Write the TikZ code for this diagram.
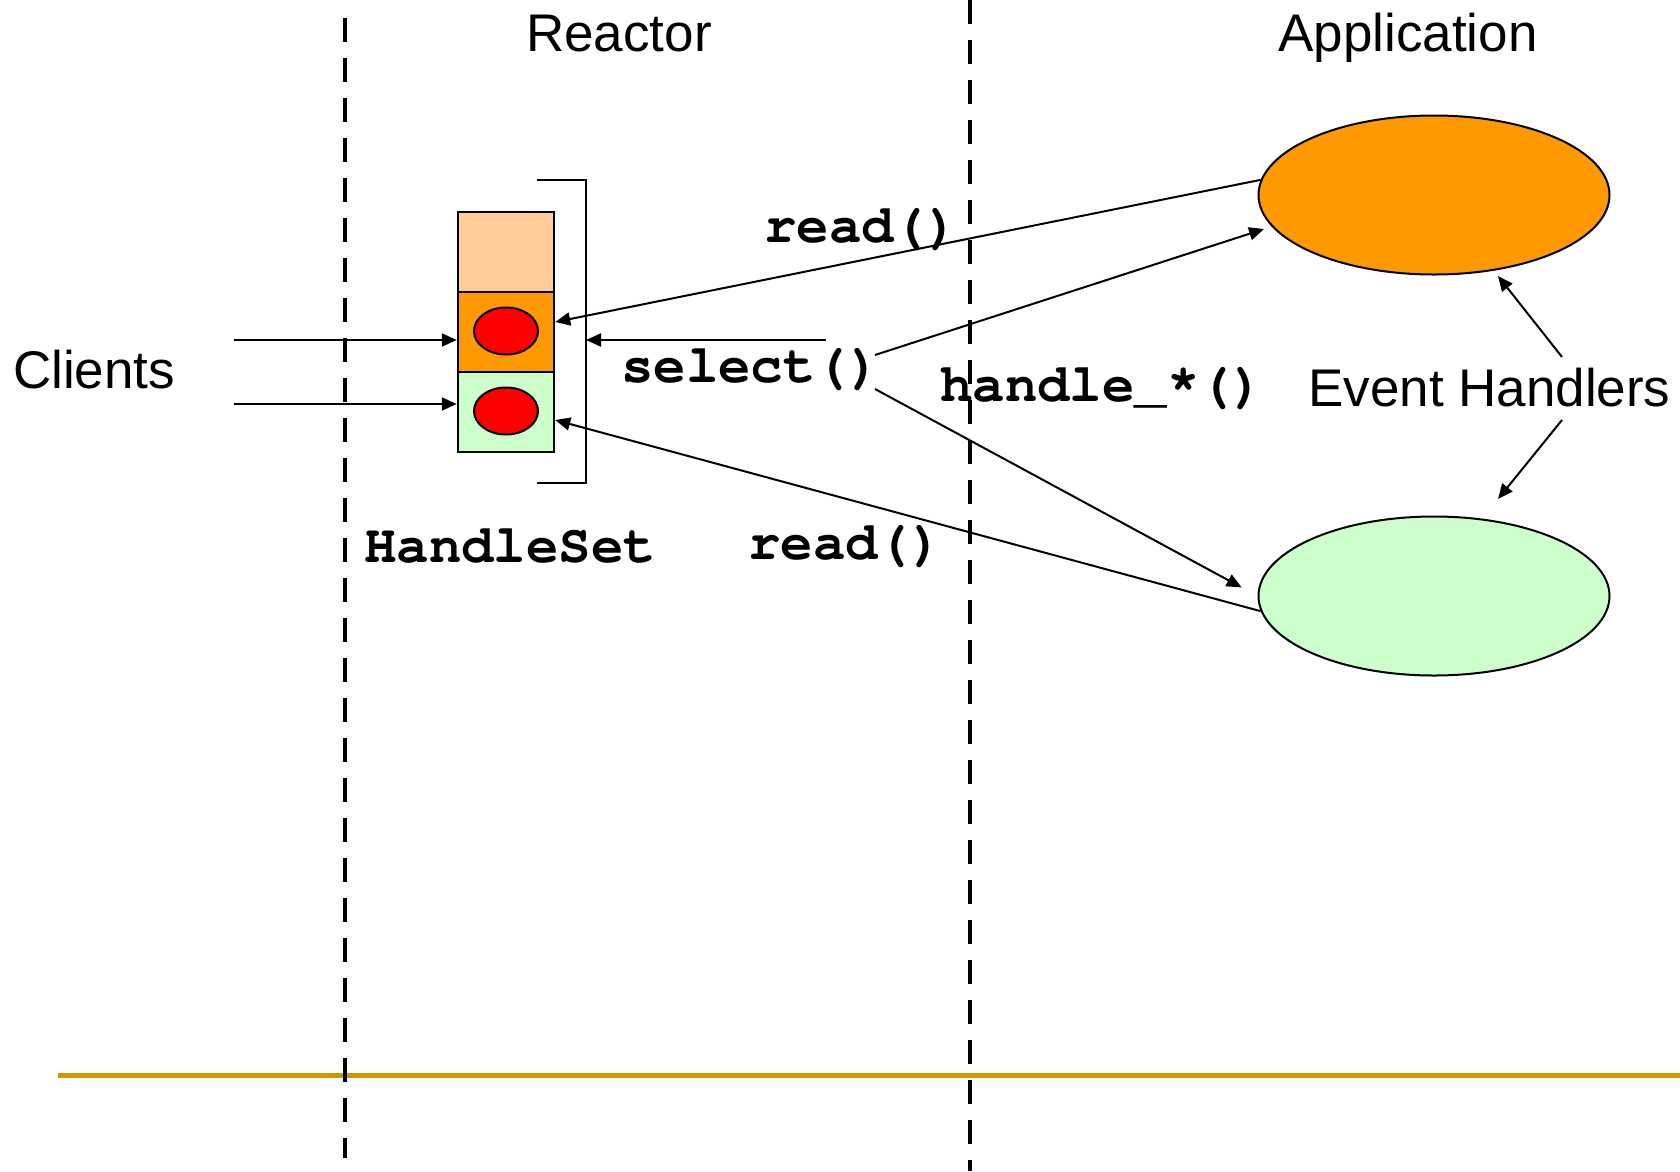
\documentclass[tikz,border=0pt]{standalone}
\usepackage{fontspec}
\setmainfont{Liberation Sans}
\newfontfamily\codefont{TeX Gyre Cursor}
\usetikzlibrary{arrows.meta,shapes.geometric}

\definecolor{peach}{HTML}{FFCC99}
\definecolor{amber}{HTML}{FF9900}
\definecolor{mint}{HTML}{CCFFCC}
\definecolor{gold}{HTML}{CC9900}

\tikzset{
  lbl/.style={inner sep=0pt, font=\fontsize{53}{60}\selectfont},
  code/.style={inner sep=0pt, font=\codefont\bfseries\fontsize{54}{60}\selectfont},
  cell/.style={draw, line width=2.5pt, minimum width=96pt, minimum height=80pt, inner sep=0pt},
  dot/.style={ellipse, draw, line width=2pt, fill=red, minimum width=64pt, minimum height=47pt, inner sep=0pt},
  handler/.style={ellipse, draw, line width=2pt, minimum width=351pt, minimum height=159pt, inner sep=0pt},
  arr/.style={line width=2pt, -{Triangle[length=15pt,width=13pt]}},
  divider/.style={line width=4.5pt, dash pattern=on 24pt off 16pt},
}

\begin{document}
\begin{tikzpicture}[x=1pt, y=-1pt]
\useasboundingbox (0,0) rectangle (1680,1171);

% ground line and column separators
\draw[gold, line width=5pt] (58,1075) -- (1680,1075);
\draw[divider] (345,18) -- (345,1158);
\draw[divider] (970,0) -- (970,1171);

% column titles
\node[lbl, anchor=base] (reactor) at (619,51) {Reactor};
\node[lbl, anchor=base] (app) at (1408,51) {Application};
\node[lbl, anchor=base west] (clients) at (13,388) {Clients};
\node[lbl, anchor=base west] (evh) at (1308,406) {Event Handlers};

% handle set cells
\node[cell, fill=peach] (c1) at (506,252) {};
\node[cell, fill=amber] (c2) at (506,332) {};
\node[cell, fill=mint]  (c3) at (506,412) {};
\node[dot] (d2) at (506,331) {};
\node[dot] (d3) at (506,411) {};

% bracket around the handle set
\coordinate (bt) at (537,180);
\coordinate (bb) at (537,483);
\draw[line width=2.5pt] (bt) -- (bt -| 586,0) -- (bb -| 586,0) -- (bb);
\coordinate (bm) at (586,340);

% event handler objects
\node[handler, fill=amber] (oh) at (1434,195) {};
\node[handler, fill=mint]  (gh) at (1434,596) {};

% code labels
\node[code, anchor=base west] (rd1) at (764,242) {read()};
\node[code, anchor=base west] (sel) at (621,382) {select()};
\node[code, anchor=base west] (hnd) at (940,401) {handle\_*()};
\node[code, anchor=base west] (hs)  at (364,562) {HandleSet};
\node[code, anchor=base west] (rd2) at (748,559) {read()};

% clients to handles
\coordinate (cl1) at (234,340);
\coordinate (cl2) at (234,404);
\draw[arr] (cl1) -- (cl1 -| c2.west);
\draw[arr] (cl2) -- (cl2 -| c3.west);

% select() on the handle set
\coordinate (selS) at (826,340);
\draw[arr] (selS) -- (bm);

% dispatch to handlers
\coordinate (selA) at (875,355);
\coordinate (selB) at (875,389);
\draw[arr, shorten >=8pt] (selA) -- (oh.191);
\draw[arr, shorten >=18pt] (selB) -- (gh.west);

% handlers reading from their handles
\draw[arr] (oh.175) -- ([yshift=10pt]c2.east);
\draw[arr] (gh.185) -- ([yshift=-8pt]c3.east);

% label pointers
\coordinate (ehU) at (1562,357);
\coordinate (ehD) at (1562,420);
\coordinate (ehUt) at (1498,276);
\coordinate (ehDt) at (1498,499);
\draw[arr] (ehU) -- (ehUt);
\draw[arr] (ehD) -- (ehDt);
\end{tikzpicture}
\end{document}
